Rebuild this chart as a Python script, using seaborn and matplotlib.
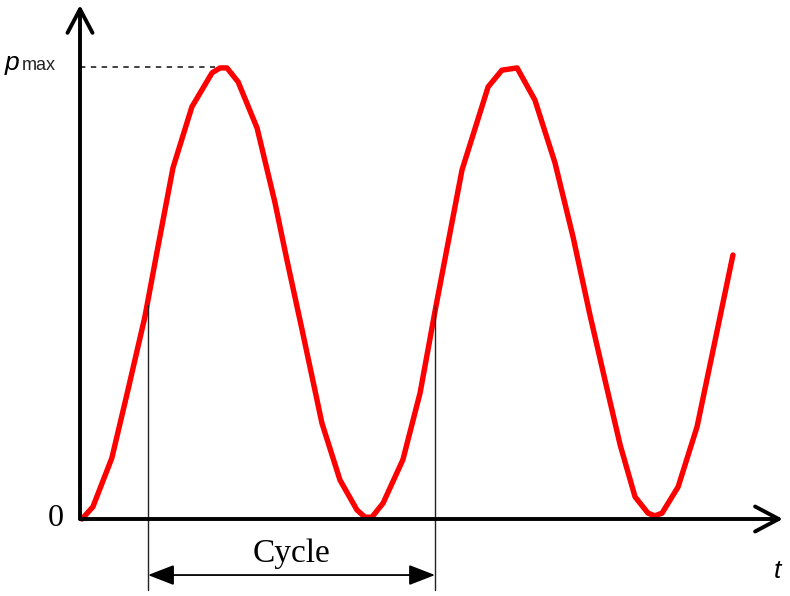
import matplotlib
matplotlib.use("Agg")
import matplotlib.pyplot as plt
import seaborn as sns
import pandas as pd

# time in cycles, pressure as fraction of p_max
t_vals = [0.007, 0.045, 0.111, 0.167, 0.226, 0.268, 0.324, 0.390, 0.460, 0.488,
          0.512, 0.551, 0.617, 0.679, 0.721, 0.774, 0.843, 0.906, 0.965, 0.993,
          1.017, 1.056, 1.125, 1.185, 1.240, 1.331, 1.422, 1.470, 1.523, 1.585,
          1.655, 1.718, 1.777, 1.829, 1.882, 1.934, 1.979, 2.003, 2.028, 2.084,
          2.150, 2.206, 2.275]
p_vals = [0.000, 0.027, 0.135, 0.285, 0.447, 0.590, 0.777, 0.912, 0.987, 0.998,
          0.998, 0.967, 0.865, 0.701, 0.573, 0.418, 0.212, 0.086, 0.020, 0.004,
          0.004, 0.035, 0.131, 0.279, 0.470, 0.772, 0.956, 0.993, 0.998, 0.927,
          0.788, 0.624, 0.451, 0.308, 0.164, 0.049, 0.013, 0.007, 0.013, 0.071,
          0.204, 0.374, 0.584]

p_max = 1.0
peak_t = 0.47
cycle_start = 0.237
cycle_end = 1.237
cycle_level = 0.473
y_labels = ["0", "p", "max"]
x_label = "t"
cycle_label = "Cycle"

df = pd.DataFrame({"t": t_vals, "p": p_vals})

sns.set_style("white")
fig = plt.figure(figsize=(7.9, 5.96), dpi=100)
ax = fig.add_axes([0, 0, 1, 1])

sns.lineplot(data=df, x="t", y="p", sort=False, estimator=None,
             color="#ff0000", linewidth=3.9, ax=ax)

ax.set_xlim(-80 / 287, 710 / 287)
ax.set_ylim(-77 / 452, 519 / 452)
ax.axis("off")

# axes with open arrow heads
ax_lw = 2.8
for end in [(0, 1.137), (2.449, 0)]:
    ax.annotate("", xy=end, xytext=(0, 0),
                arrowprops=dict(arrowstyle="->,head_length=0.85,head_width=0.45",
                                lw=ax_lw, color="black", shrinkA=0, shrinkB=0,
                                mutation_scale=20))

# p_max reference
ax.plot([0, peak_t], [p_max, p_max], ls=(0, (3, 3)), color="#333333", lw=1.3)

# cycle markers
for tc in [cycle_start, cycle_end]:
    ax.plot([tc, tc], [-0.157, cycle_level], color="#222222", lw=1.0)
ax.annotate("", xy=(cycle_end, -0.124), xytext=(cycle_start, -0.124),
            arrowprops=dict(arrowstyle="<|-|>,head_length=0.9,head_width=0.35",
                            lw=1.3, color="black", shrinkA=0, shrinkB=0,
                            mutation_scale=18))
ax.text((cycle_start + cycle_end) / 2, -0.095, cycle_label, ha="center",
        va="baseline", fontsize=24, family="Liberation Serif", color="black")

# labels
ax.text(-0.056, 0.0, y_labels[0], ha="right", va="center", fontsize=23,
        family="Liberation Serif", color="black")
ax.text(-0.261, 0.993, y_labels[1], ha="left", va="baseline", fontsize=19,
        style="italic", family="Liberation Sans", color="black")
ax.text(-0.202, 0.993, y_labels[2], ha="left", va="baseline", fontsize=13,
        family="Liberation Sans", color="#222222")
ax.text(2.429, -0.131, x_label, ha="center", va="baseline", fontsize=19,
        style="italic", family="Liberation Sans", color="black")

fig.savefig("out.png", dpi=100)
